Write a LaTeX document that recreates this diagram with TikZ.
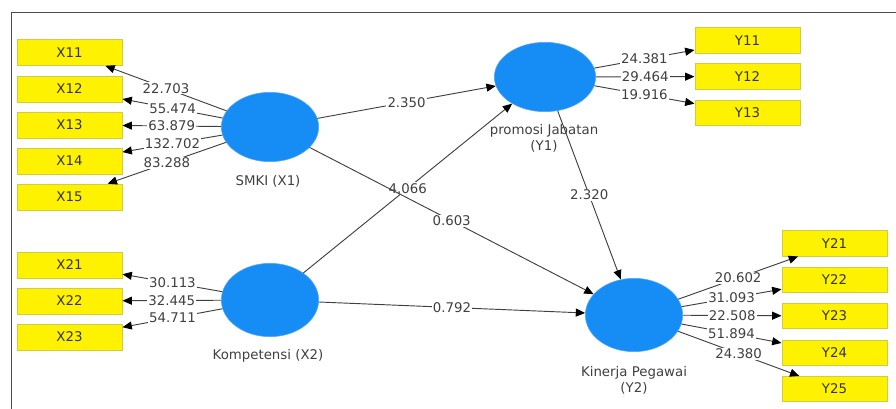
\documentclass[tikz,border=0pt]{standalone}
\usepackage{fontspec}
\setmainfont{DejaVu Sans}
\usetikzlibrary{arrows.meta,shapes.geometric}
\definecolor{latblue}{RGB}{22,140,245}
\definecolor{indedge}{RGB}{205,205,70}
\definecolor{pathgray}{RGB}{64,64,64}
\tikzset{lat/.style = {ellipse, fill=latblue, draw=latblue!75!white, line width=0.4pt, minimum width=73pt, minimum height=52pt, inner sep=0},
  ind/.style = {rectangle, fill=yellow, draw=indedge, line width=0.5pt, minimum width=79pt, minimum height=19.5pt, inner sep=0, text=black!80},
  latname/.style = {align=center, text=black!75, inner sep=0},
  tval/.style = {fill=white, inner sep=0.8pt, text=pathgray},
  conn/.style = {draw=pathgray, line width=0.7pt, -{Triangle[length=7pt,width=6pt,color=black]}}}

\begin{document}
\begin{tikzpicture}[x=0.75pt, y=-0.75pt]
  \useasboundingbox (0,0) rectangle (896,409);
  \draw [black!70, line width=0.7pt] (11,409) -- (11,12) -- (896,12);

  \node [lat] (smki) at (270,127) {};
  \node [lat, minimum height=55pt] (komp) at (270,300) {};
  \node [lat, minimum width=76pt] (promosi) at (545,77) {};
  \node [lat, minimum height=55pt] (kinerja) at (634,315) {};

  \node [latname] (smkiname) at (268,181) {SMKI (X1)};
  \node [latname] (kompname) at (268,356) {Kompetensi (X2)};
  \node [latname] (promosiname) at (544,138) {promosi Jabatan\\(Y1)};
  \node [latname] (kinerjaname) at (634,380) {Kinerja Pegawai\\(Y2)};

  \foreach \n/\y in {11/52.5, 12/89, 13/125, 14/161, 15/197, 21/265, 22/301, 23/337}
    \node [ind] (x\n) at (69.5,\y) {X\n};
  \foreach \n/\y in {11/40.5, 12/76.5, 13/113}
    \node [ind, minimum height=19pt] (y\n) at (747.5,\y) {Y\n};
  \foreach \n/\y in {21/243.5, 22/280, 23/316, 24/353, 25/389}
    \node [ind, minimum height=19pt] (y\n) at (834.5,\y) {Y\n};

  \foreach \n/\v in {11/22.703, 12/55.474, 13/63.879, 14/132.702, 15/83.288}
    \draw [conn] (smki) -- node [tval] {\v} (x\n);
  \foreach \n/\v in {21/30.113, 22/32.445, 23/54.711}
    \draw [conn] (komp) -- node [tval] {\v} (x\n);
  \foreach \n/\v in {11/24.381, 12/29.464, 13/19.916}
    \draw [conn] (promosi) -- node [tval] {\v} (y\n);
  \foreach \n/\v in {21/20.602, 22/31.093, 23/22.508, 24/51.894, 25/24.380}
    \draw [conn] (kinerja) -- node [tval] {\v} (y\n);

  \draw [conn] (smki) -- node [tval] {2.350} (promosi);
  \draw [conn] (komp) -- node [tval] {4.066} (promosi);
  \draw [conn] (smki) -- node [tval] {0.603} (kinerja);
  \draw [conn] (komp) -- node [tval] {0.792} (kinerja);
  \draw [conn] (promosi) -- node [tval] {2.320} (kinerja);
\end{tikzpicture}
\end{document}
